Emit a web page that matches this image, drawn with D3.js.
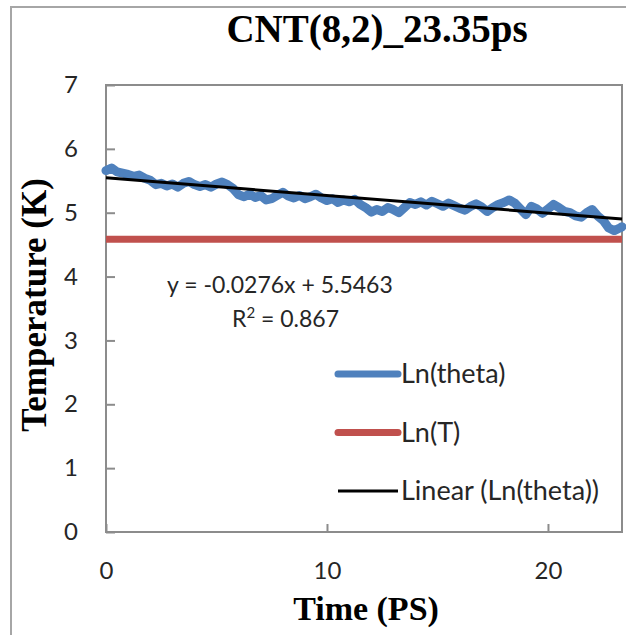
<!DOCTYPE html>
<html>
<head>
<meta charset="utf-8">
<script src="https://cdn.jsdelivr.net/npm/d3@7"></script>
<style>
    body { margin: 0; background: #fff; }
    .tick text { font-family: Lato, "Open Sans", sans-serif; font-size: 24px; fill: #262626; }
    .legend text { font-family: Lato, "Open Sans", sans-serif; font-size: 27px; fill: #262626; }
    .trend-label { font-family: Lato, "Open Sans", sans-serif; font-size: 23px; fill: #262626; }
</style>
</head>
<body>
<div class="chart"></div>
<script>
// time in ps
const timeValues = [
    0.00, 0.25, 0.50, 0.75, 1.00, 1.25, 1.50, 1.75, 2.00, 2.25, 2.50, 2.75,
    3.00, 3.25, 3.50, 3.75, 4.00, 4.25, 4.50, 4.75, 5.00, 5.25, 5.50, 5.75,
    6.00, 6.25, 6.50, 6.75, 7.00, 7.25, 7.50, 7.75, 8.00, 8.25, 8.50, 8.75,
    9.00, 9.25, 9.50, 9.75, 10.00, 10.25, 10.50, 10.75, 11.00, 11.25, 11.50, 11.75,
    12.00, 12.25, 12.50, 12.75, 13.00, 13.25, 13.50, 13.75, 14.00, 14.25, 14.50, 14.75,
    15.00, 15.25, 15.50, 15.75, 16.00, 16.25, 16.50, 16.75, 17.00, 17.25, 17.50, 17.75,
    18.00, 18.25, 18.50, 18.75, 19.00, 19.25, 19.50, 19.75, 20.00, 20.25, 20.50, 20.75,
    21.00, 21.25, 21.50, 21.75, 22.00, 22.25, 22.50, 22.75, 23.00, 23.25, 23.35
];

// Ln(theta), estimated from the blue band
const lnTheta = [
    5.66, 5.70, 5.64, 5.62, 5.60, 5.57, 5.59, 5.54, 5.51, 5.44, 5.46, 5.42,
    5.45, 5.40, 5.46, 5.49, 5.44, 5.41, 5.44, 5.40, 5.45, 5.48, 5.44, 5.38,
    5.28, 5.25, 5.29, 5.24, 5.27, 5.20, 5.22, 5.27, 5.32, 5.26, 5.23, 5.27,
    5.22, 5.25, 5.29, 5.23, 5.19, 5.22, 5.16, 5.20, 5.17, 5.21, 5.13, 5.08,
    5.01, 5.05, 5.02, 5.08, 5.05, 5.00, 5.08, 5.16, 5.13, 5.17, 5.12, 5.18,
    5.14, 5.10, 5.15, 5.11, 5.07, 5.04, 5.10, 5.14, 5.09, 5.02, 5.08, 5.13,
    5.16, 5.20, 5.15, 5.06, 4.97, 5.10, 5.06, 4.99, 5.06, 5.13, 5.08, 5.02,
    5.00, 4.95, 4.93, 5.00, 5.05, 4.95, 4.88, 4.76, 4.72, 4.76, 4.78
];

const lnT = 4.585;
const trendSlope = -0.0276;
const trendIntercept = 5.5463;

const xTicks = [0, 10, 20];
const yTicks = [0, 1, 2, 3, 4, 5, 6, 7];
const xDomain = [0, 23.35];
const yDomain = [0, 7];

const seriesNames = ["Ln(theta)", "Ln(T)", "Linear (Ln(theta))"];
const seriesColors = ["#4f81bd", "#c0504d", "#000000"];

const WIDTH = 626, HEIGHT = 635;
const margin = { top: 85, right: 4, bottom: 103, left: 106 };
const chartWidth = WIDTH - margin.left - margin.right;
const chartHeight = HEIGHT - margin.top - margin.bottom;

const svgRoot = d3.select(".chart").append("svg")
    .attr("width", WIDTH)
    .attr("height", HEIGHT);

// outer chart border (only left/top are inside the window)
svgRoot.append("rect")
    .attr("x", 11).attr("y", 7)
    .attr("width", WIDTH + 20).attr("height", HEIGHT + 20)
    .attr("fill", "none")
    .attr("stroke", "#a6a6a6")
    .attr("stroke-width", 2);

const svg = svgRoot.append("g")
    .attr("transform", `translate(${margin.left}, ${margin.top})`);

const xScale = d3.scaleLinear().domain(xDomain).range([0, chartWidth]);
const yScale = d3.scaleLinear().domain(yDomain).range([chartHeight, 0]);

// plot area frame
svg.append("rect")
    .attr("width", chartWidth)
    .attr("height", chartHeight)
    .attr("fill", "none")
    .attr("stroke", "#8c8c8c")
    .attr("stroke-width", 2);

// axes: ticks point inward, labels pushed outward
const xAxis = svg.append("g")
    .attr("class", "x axis")
    .attr("transform", `translate(0, ${chartHeight})`)
    .call(d3.axisBottom(xScale).tickValues(xTicks).tickSize(-8).tickPadding(30).tickFormat(d3.format("d")));

const yAxis = svg.append("g")
    .attr("class", "y axis")
    .call(d3.axisLeft(yScale).tickValues(yTicks).tickSize(-9).tickPadding(28).tickFormat(d3.format("d")));

[xAxis, yAxis].forEach(ax => {
    ax.select(".domain").remove();
    ax.selectAll(".tick line").attr("stroke", "#8c8c8c").attr("stroke-width", 2);
});

// Ln(T) reference line
svg.append("line")
    .attr("x1", xScale(xDomain[0])).attr("x2", xScale(xDomain[1]))
    .attr("y1", yScale(lnT)).attr("y2", yScale(lnT))
    .attr("stroke", seriesColors[1])
    .attr("stroke-width", 7);

// Ln(theta) data
const data = timeValues.map((t, i) => ({ t: t, v: lnTheta[i] }));
const line = d3.line()
    .x(d => xScale(d.t))
    .y(d => yScale(d.v))
    .curve(d3.curveLinear);

svg.append("path")
    .datum(data)
    .attr("class", "line")
    .attr("fill", "none")
    .attr("stroke", seriesColors[0])
    .attr("stroke-width", 9)
    .attr("stroke-linejoin", "round")
    .attr("stroke-linecap", "round")
    .attr("d", line);

// linear trendline
svg.append("line")
    .attr("x1", xScale(xDomain[0])).attr("x2", xScale(xDomain[1]))
    .attr("y1", yScale(trendIntercept + trendSlope * xDomain[0]))
    .attr("y2", yScale(trendIntercept + trendSlope * xDomain[1]))
    .attr("stroke", seriesColors[2])
    .attr("stroke-width", 3);

// trendline equation
const eq = svg.append("text")
    .attr("class", "trend-label")
    .attr("transform", `translate(${167 - margin.left}, ${293 - margin.top})`);
eq.append("tspan").attr("x", 0).text(`y = ${trendSlope}x + ${trendIntercept}`);
const r2 = eq.append("tspan").attr("x", 65).attr("dy", 34);
r2.append("tspan").text("R");
r2.append("tspan").attr("dy", -9).attr("font-size", 15).text("2");
r2.append("tspan").attr("dy", 9).text(" = 0.867");

// legend
const legend = svg.append("g")
    .attr("class", "legend")
    .attr("transform", `translate(${338 - margin.left}, ${374 - margin.top})`);

seriesNames.forEach((name, i) => {
    const row = legend.append("g").attr("transform", `translate(0, ${i * 58.5})`);
    row.append("line")
        .attr("x1", 0).attr("x2", 60)
        .attr("stroke", seriesColors[i])
        .attr("stroke-width", i === 2 ? 3 : 7)
        .attr("stroke-linecap", i === 2 ? "butt" : "round");
    row.append("text")
        .attr("x", 63)
        .attr("dy", "0.35em")
        .text(name);
});

// titles
svgRoot.append("text")
    .attr("x", 377).attr("y", 42)
    .attr("text-anchor", "middle")
    .attr("font-family", "'Liberation Serif', 'Times New Roman', serif")
    .attr("font-weight", "bold")
    .attr("font-size", 39)
    .text("CNT(8,2)_23.35ps");

svgRoot.append("text")
    .attr("x", 366).attr("y", 620)
    .attr("text-anchor", "middle")
    .attr("font-family", "'Liberation Serif', 'Times New Roman', serif")
    .attr("font-weight", "bold")
    .attr("font-size", 34)
    .text("Time (PS)");

svgRoot.append("text")
    .attr("transform", "translate(46, 305) rotate(-90)")
    .attr("text-anchor", "middle")
    .attr("font-family", "'Liberation Serif', 'Times New Roman', serif")
    .attr("font-weight", "bold")
    .attr("font-size", 35)
    .text("Temperature (K)");
</script>
</body>
</html>
